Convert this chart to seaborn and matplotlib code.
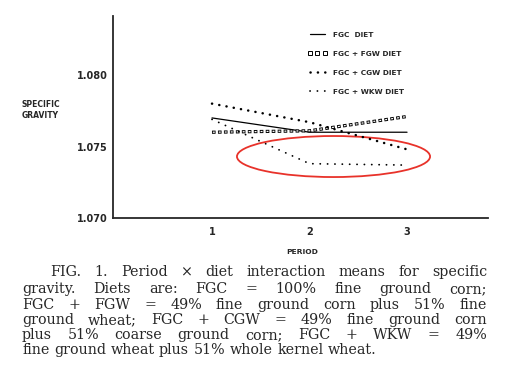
import matplotlib
matplotlib.use('Agg')
import matplotlib.pyplot as plt
import seaborn as sns
from matplotlib.lines import Line2D
from matplotlib.patches import Ellipse

# 데이터
periods = [1, 2, 3]
fgc = [1.0770, 1.0760, 1.0760]
fgc_fgw = [1.0760, 1.0761, 1.0771]
fgc_cgw = [1.0780, 1.0767, 1.0748]
fgc_wkw = [1.0769, 1.0738, 1.0737]
diet_labels = ['FGC  DIET', 'FGC + FGW DIET', 'FGC + CGW DIET', 'FGC + WKW DIET']
x_ticks = [1, 2, 3]
y_ticks = [1.070, 1.075, 1.080]
y_tick_labels = ['1.070', '1.075', '1.080']

caption_lines = [
    'FIG. 1. Period \u00d7 diet interaction means for specific',
    'gravity. Diets are: FGC = 100% fine ground corn;',
    'FGC + FGW = 49% fine ground corn plus 51% fine',
    'ground wheat; FGC + CGW = 49% fine ground corn',
    'plus 51% coarse ground corn; FGC + WKW = 49%',
    'fine ground wheat plus 51% whole kernel wheat.',
]

W, H = 508, 374
sns.set_style('white')
plt.rcParams['font.family'] = 'DejaVu Sans'
plt.rcParams['lines.scale_dashes'] = False

fig = plt.figure(figsize=(W / 100, H / 100), dpi=100)
ax = fig.add_axes([113 / W, 1 - 218 / H, 375 / W, 202 / H])

# FGC: 실선
sns.lineplot(x=periods, y=fgc, ax=ax, color='black', lw=0.9, legend=False)
l_fgc = ax.lines[-1]

# FGC + FGW: 속이 빈 네모 (검은 점선 위에 흰 점선)
sns.lineplot(x=periods, y=fgc_fgw, ax=ax, color='black', lw=2.3,
             linestyle=(0, (2.6, 1.7)), dash_capstyle='butt', legend=False)
sns.lineplot(x=periods, y=fgc_fgw, ax=ax, color='white', lw=0.9,
             linestyle=(3.7, (1.4, 2.9)), dash_capstyle='butt', legend=False)
l_fgw = Line2D([], [], ls='none', marker='s', markersize=2.6, mfc='white',
               mec='black', mew=0.7)

# FGC + CGW: 굵은 점
sns.lineplot(x=periods, y=fgc_cgw, ax=ax, color='black', lw=1.8,
             linestyle=(0, (0.1, 5.2)), dash_capstyle='round', legend=False)
l_cgw = ax.lines[-1]

# FGC + WKW: 작은 점
sns.lineplot(x=periods, y=fgc_wkw, ax=ax, color='black', lw=1.3,
             linestyle=(0, (0.1, 5.2)), dash_capstyle='round', legend=False)
l_wkw = ax.lines[-1]

# 빨간 타원
ax.add_patch(Ellipse((2.246, 1.07430), 1.98, 0.00287, fill=False,
                     edgecolor='#e8322a', lw=1.3))

ax.set_xlim(-0.015, 3.83)
ax.set_ylim(1.070, 1.08413)
ax.set_xticks(x_ticks)
ax.set_xticklabels([str(t) for t in x_ticks])
ax.set_yticks(y_ticks)
ax.set_yticklabels(y_tick_labels)
ax.tick_params(axis='y', direction='in', length=6.5, width=1, pad=4, labelsize=7)
ax.tick_params(axis='x', direction='in', length=4.5, width=1, pad=6.5, labelsize=7)
for lab in ax.get_xticklabels() + ax.get_yticklabels():
    lab.set_fontweight('bold')
sns.despine(ax=ax)
for s in ['left', 'bottom']:
    ax.spines[s].set_linewidth(1.3)
ax.set_xlabel('')
ax.set_ylabel('')

fig.text(22 / W, 1 - 110 / H, 'SPECIFIC\nGRAVITY', fontsize=5.5, fontweight='bold',
         ha='left', va='center', linespacing=1.2)
fig.text(302 / W, 1 - 252 / H, 'PERIOD', fontsize=5.4, fontweight='bold',
         ha='center', va='center')

ax.legend([l_fgc, l_fgw, l_cgw, l_wkw], diet_labels, numpoints=3,
          loc='upper left', bbox_to_anchor=(304 / W, 1 - 28 / H),
          bbox_transform=fig.transFigure, frameon=False, borderpad=0,
          prop={'size': 5.3, 'weight': 'bold'}, handlelength=2.6,
          handletextpad=0.8, labelspacing=1.75)

# 캡션: 양쪽 정렬
renderer = fig.canvas.get_renderer()
left_px, right_px = 22, 487
baselines = [276, 293, 309, 324, 339, 354]
for i, (line, yy) in enumerate(zip(caption_lines, baselines)):
    words = line.split(' ')
    start = 50 if i == 0 else left_px
    texts = [fig.text(0, 1 - yy / H, w, fontsize=10.3, family='DejaVu Serif',
                      ha='left', va='baseline') for w in words]
    widths = [t.get_window_extent(renderer).width for t in texts]
    if i == len(caption_lines) - 1:
        gap = 4.5
    else:
        gap = (right_px - start - sum(widths)) / (len(words) - 1)
    x = start
    for t, w in zip(texts, widths):
        t.set_x(x / W)
        x += w + gap

fig.savefig('out.png', dpi=100)
